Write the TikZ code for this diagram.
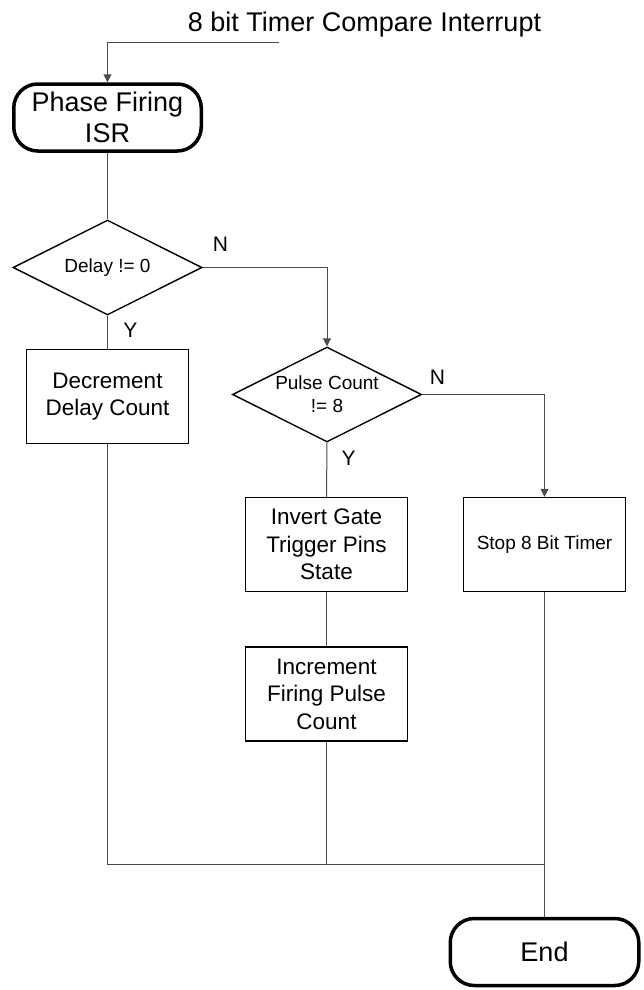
\documentclass[tikz,border=0pt]{standalone}
\usepackage{fontspec}
\setmainfont{Liberation Sans}
\usetikzlibrary{arrows.meta,shapes.geometric}
\begin{document}
\begin{tikzpicture}[x=1pt,y=-1pt,
  conn/.style={draw=black!70,line width=1pt},
  arr/.style={conn,-{Triangle[length=8pt,width=8pt]}},
  term/.style={draw,line width=3.5pt,rounded corners=24pt,minimum width=187.5pt,minimum height=67pt,inner sep=0pt,align=center,font=\fontsize{27}{31}\selectfont},
  procbox/.style={draw,line width=1.4pt,minimum width=162pt,minimum height=94pt,inner sep=0pt,align=center,font=\fontsize{22.5}{27.5}\selectfont},
  decision/.style={diamond,draw,line width=1.4pt,minimum width=189pt,minimum height=95pt,inner sep=0pt},
  dtext/.style={align=center,font=\fontsize{19}{23}\selectfont,inner sep=0pt},
  yn/.style={font=\fontsize{21}{24}\selectfont,inner sep=0pt}
]
\useasboundingbox (0,0) rectangle (644,990);
\node[anchor=base,font=\fontsize{27}{32}\selectfont,inner sep=0pt] (title) at (364.5,32) {8 bit Timer Compare Interrupt};
\coordinate (in) at (279,43);
\node[term] (start) at (107.5,117.5) {Phase Firing\\ISR};
\node[decision,label={[dtext]center:Delay != 0}] (d1) at (107.5,267.5) {};
\node[procbox] (dec) at (107.5,396.5) {Decrement\\Delay Count};
\node[decision,label={[dtext]center:Pulse Count\\!= 8}] (d2) at (327,394.5) {};
\node[procbox] (inv) at (326.5,544.5) {Invert Gate\\Trigger Pins\\State};
\node[procbox] (inc) at (326.5,694) {Increment\\Firing Pulse\\Count};
\node[procbox,font=\fontsize{19}{23}\selectfont] (stop) at (544.5,544.5) {Stop 8 Bit Timer};
\node[term,minimum width=188.5pt] (end) at (544.5,952) {End};
\coordinate (m) at (544.5,864);
\node[yn] (n1) at (220.5,244.5) {N};
\node[yn] (y1) at (130.5,330) {Y};
\node[yn] (n2) at (437.5,377.5) {N};
\node[yn] (y2) at (348.5,458.5) {Y};
\draw[arr] (in) -| (start.north);
\draw[conn] (start.south) -- (d1.north);
\draw[arr] (d1.east) -| (d2.north);
\draw[conn] (d1.south) -- (dec.north);
\draw[arr] (d2.east) -| (stop.north);
\draw[conn] (d2.south) -- (inv.north);
\draw[conn] (inv.south) -- (inc.north);
\draw[conn] (dec.south) |- (m);
\draw[conn] (inc.south) -- (inc.south |- m);
\draw[conn] (stop.south) -- (end.north);
\end{tikzpicture}
\end{document}
